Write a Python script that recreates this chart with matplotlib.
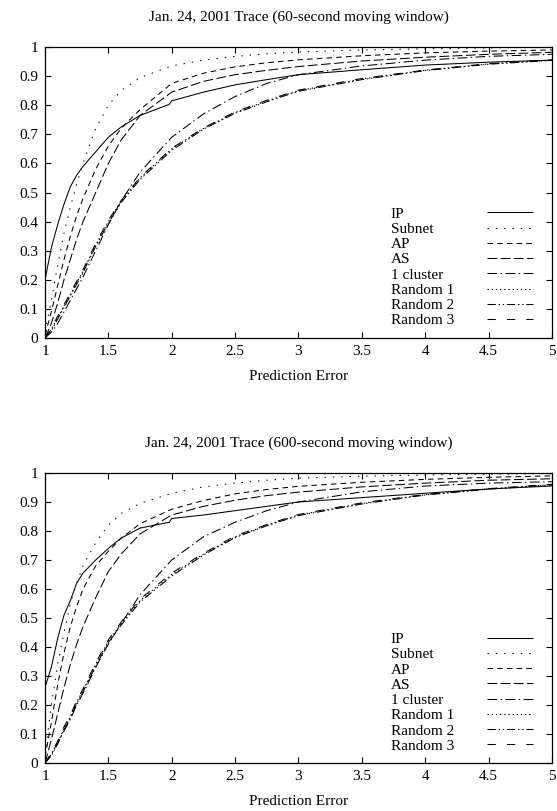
import matplotlib
matplotlib.use("Agg")
import matplotlib.pyplot as plt
from matplotlib.lines import Line2D
from matplotlib.ticker import MultipleLocator, FormatStrFormatter

plt.rcParams['font.family'] = ['Liberation Serif', 'DejaVu Serif']
plt.rcParams['lines.scale_dashes'] = False

# prediction error grid (x axis)
err = [1.0, 1.05, 1.1, 1.15, 1.2, 1.25, 1.3, 1.4, 1.5, 1.6, 1.75,
       2.0, 2.25, 2.5, 2.75, 3.0, 3.5, 4.0, 4.5, 5.0]
# IP curve has a small jump at 2.0, so it gets its own grid
err_ip = [1.0, 1.05, 1.1, 1.15, 1.2, 1.25, 1.3, 1.4, 1.5, 1.6, 1.75,
          1.98, 2.0, 2.25, 2.5, 2.75, 3.0, 3.5, 4.0, 4.5, 5.0]

labels = ["IP", "Subnet", "AP", "AS", "1 cluster", "Random 1", "Random 2", "Random 3"]

# 60-second moving window
ip_60 = [0.20, 0.31, 0.39, 0.46, 0.52, 0.56, 0.59, 0.64, 0.69, 0.725, 0.765,
         0.803, 0.815, 0.845, 0.87, 0.888, 0.905, 0.922, 0.938, 0.948, 0.955]
subnet_60 = [0.02, 0.13, 0.25, 0.36, 0.45, 0.53, 0.60, 0.72, 0.80, 0.85, 0.895,
             0.935, 0.955, 0.968, 0.977, 0.983, 0.99, 0.994, 0.997, 0.999]
ap_60 = [0.01, 0.09, 0.18, 0.27, 0.35, 0.42, 0.48, 0.58, 0.66, 0.72, 0.785,
         0.875, 0.91, 0.932, 0.946, 0.956, 0.97, 0.98, 0.986, 0.99]
as_60 = [0.0, 0.05, 0.12, 0.20, 0.27, 0.34, 0.40, 0.50, 0.60, 0.68, 0.765,
         0.845, 0.882, 0.905, 0.92, 0.933, 0.952, 0.965, 0.975, 0.982]
cluster_60 = [0.0, 0.02, 0.05, 0.09, 0.13, 0.17, 0.21, 0.30, 0.39, 0.47, 0.57,
              0.69, 0.77, 0.83, 0.875, 0.905, 0.935, 0.955, 0.968, 0.975]
rand1_60 = [0.0, 0.03, 0.07, 0.11, 0.15, 0.19, 0.23, 0.32, 0.40, 0.47, 0.55,
            0.65, 0.72, 0.775, 0.815, 0.85, 0.89, 0.92, 0.942, 0.955]
rand2_60 = [0.0, 0.025, 0.065, 0.105, 0.145, 0.185, 0.225, 0.315, 0.395, 0.465, 0.545,
            0.645, 0.718, 0.772, 0.812, 0.848, 0.888, 0.919, 0.941, 0.954]
rand3_60 = [0.0, 0.035, 0.075, 0.115, 0.155, 0.195, 0.235, 0.325, 0.405, 0.472, 0.552,
            0.652, 0.722, 0.777, 0.817, 0.852, 0.892, 0.921, 0.943, 0.956]

# 600-second moving window
ip_600 = [0.26, 0.33, 0.43, 0.51, 0.56, 0.62, 0.655, 0.70, 0.74, 0.775, 0.81,
          0.83, 0.843, 0.855, 0.87, 0.885, 0.90, 0.915, 0.93, 0.945, 0.955]
subnet_600 = [0.03, 0.20, 0.34, 0.45, 0.55, 0.62, 0.68, 0.76, 0.82, 0.86, 0.895,
              0.93, 0.952, 0.965, 0.975, 0.982, 0.989, 0.993, 0.996, 0.998]
ap_600 = [0.02, 0.14, 0.27, 0.38, 0.47, 0.54, 0.60, 0.68, 0.73, 0.775, 0.825,
          0.875, 0.905, 0.928, 0.943, 0.954, 0.968, 0.978, 0.985, 0.99]
as_600 = [0.0, 0.08, 0.17, 0.26, 0.34, 0.41, 0.47, 0.57, 0.66, 0.72, 0.79,
          0.855, 0.885, 0.906, 0.922, 0.934, 0.952, 0.965, 0.975, 0.98]
cluster_600 = [0.0, 0.03, 0.07, 0.11, 0.15, 0.20, 0.24, 0.33, 0.41, 0.48, 0.58,
               0.70, 0.78, 0.83, 0.87, 0.90, 0.935, 0.955, 0.965, 0.97]
rand1_600 = [0.0, 0.03, 0.07, 0.12, 0.16, 0.21, 0.25, 0.34, 0.42, 0.48, 0.56,
             0.65, 0.72, 0.78, 0.82, 0.855, 0.895, 0.925, 0.945, 0.96]
rand2_600 = [0.0, 0.025, 0.065, 0.115, 0.155, 0.205, 0.245, 0.335, 0.415, 0.475, 0.555,
             0.645, 0.717, 0.777, 0.818, 0.853, 0.893, 0.924, 0.944, 0.959]
rand3_600 = [0.0, 0.035, 0.075, 0.125, 0.165, 0.215, 0.255, 0.345, 0.425, 0.485, 0.565,
             0.655, 0.723, 0.783, 0.822, 0.857, 0.897, 0.926, 0.946, 0.961]

# gnuplot-like dash patterns
styles = [
    (0, ()),
    (0, (1, 5)),
    (0, (4, 3)),
    (0, (7, 2.5)),
    (0, (7, 2.5, 1, 2.5)),
    (0, (1, 2)),
    (0, (6, 2, 1, 2, 1, 2)),
    (0, (6, 8)),
]

panels = [
    ("Jan. 24, 2001 Trace (60-second moving window)",
     [ip_60, subnet_60, ap_60, as_60, cluster_60, rand1_60, rand2_60, rand3_60],
     [0.0808, 0.5832, 0.910, 0.3588]),
    ("Jan. 24, 2001 Trace (600-second moving window)",
     [ip_600, subnet_600, ap_600, as_600, cluster_600, rand1_600, rand2_600, rand3_600],
     [0.0808, 0.0592, 0.910, 0.3576]),
]

fs = 11
fig = plt.figure(figsize=(5.57, 8.11), dpi=100)

for title, series, rect in panels:
    ax = fig.add_axes(rect)
    handles = []
    for i, (ys, ls) in enumerate(zip(series, styles)):
        xs = err_ip if i == 0 else err
        h, = ax.plot(xs, ys, color='black', linewidth=0.75, linestyle=ls)
        handles.append(h)
    ax.set_xlim(1, 5)
    ax.set_ylim(0, 1)
    ax.xaxis.set_major_locator(MultipleLocator(0.5))
    ax.yaxis.set_major_locator(MultipleLocator(0.1))
    ax.xaxis.set_major_formatter(FormatStrFormatter('%g'))
    ax.yaxis.set_major_formatter(FormatStrFormatter('%g'))
    ax.tick_params(direction='in', top=True, right=True, length=4, width=0.8,
                   labelsize=fs, pad=5)
    for s in ax.spines.values():
        s.set_linewidth(0.9)
    ax.set_title(title, fontsize=fs, pad=19)
    ax.set_xlabel("Prediction Error", fontsize=fs, labelpad=9)

    # legend: labels on the left, line samples right-aligned
    blanks = [Line2D([], [], linestyle='none') for _ in labels]
    leg1 = ax.legend(blanks, labels, loc='upper left', bbox_to_anchor=(0.682, 0.45),
                     frameon=False, fontsize=fs, handlelength=0, handletextpad=0,
                     borderpad=0, borderaxespad=0, labelspacing=0.1)
    ax.add_artist(leg1)
    ax.legend(handles, [""] * len(labels), loc='upper left', bbox_to_anchor=(0.872, 0.45),
              frameon=False, fontsize=fs, handlelength=3.0, handletextpad=0,
              borderpad=0, borderaxespad=0, labelspacing=0.1)

fig.savefig("out.png", dpi=100)
